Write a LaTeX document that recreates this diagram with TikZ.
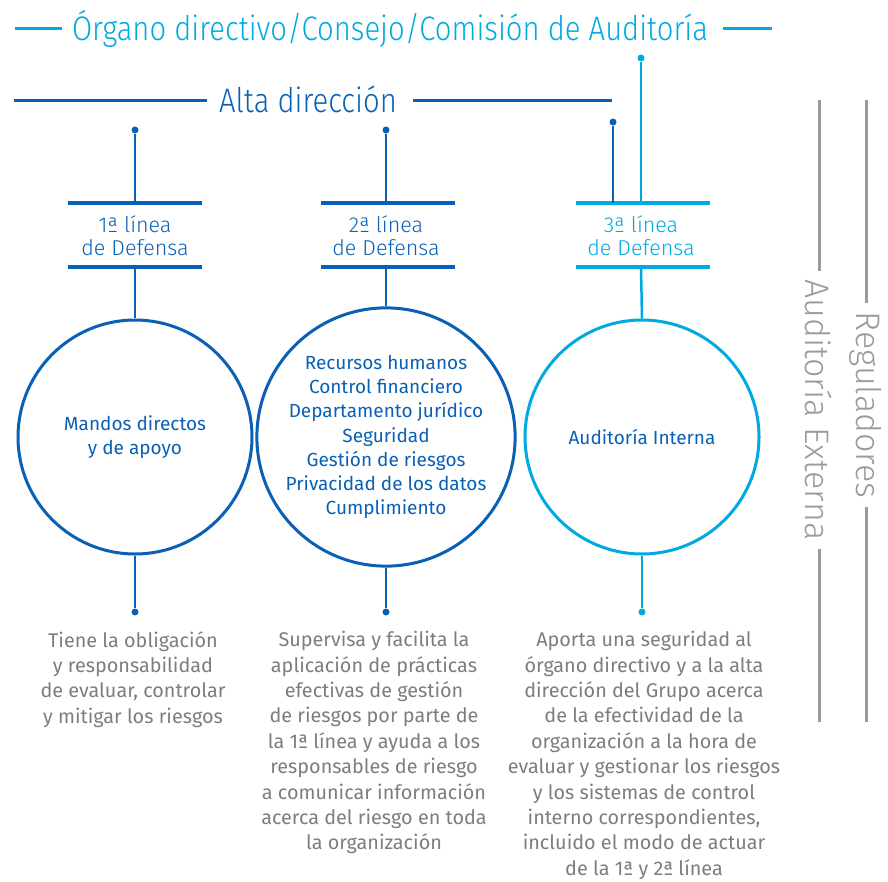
\documentclass[tikz,border=0pt]{standalone}
\usepackage{fontspec}
\usetikzlibrary{calc}
\setmainfont{Fira Sans}
\newfontfamily\hdrfont[UprightFont={* Light},FakeStretch=0.86]{Fira Sans}
\newfontfamily\lightfont[UprightFont={* Light}]{Fira Sans}
\definecolor{sblue}{RGB}{10,96,180}
\definecolor{scyan}{RGB}{0,170,225}
\definecolor{gtext}{RGB}{125,125,125}
\definecolor{gline}{RGB}{155,155,155}
\tikzset{
  hdr/.style={font=\hdrfont\fontsize{34}{40}\selectfont, inner sep=0pt},
  side/.style={font=\lightfont\fontsize{34}{40}\selectfont, inner sep=0pt, text=gline, rotate=-90},
  linelbl/.style={font=\lightfont\fontsize{21.5}{23}\selectfont, align=center, inner sep=0pt},
  circ/.style={circle, draw, line width=3pt, minimum size=234pt, inner sep=0pt, align=center,
     font=\fontsize{19}{24.2}\selectfont, text=sblue},
  desc/.style={font=\fontsize{19.8}{25.4}\selectfont, text=gtext, align=center, inner sep=0pt, anchor=north},
  dot/.style={circle, fill, inner sep=0pt, minimum size=7pt},
  conn/.style={line width=2.5pt},
  bar/.style={line width=4pt},
  hline/.style={line width=3pt},
}
\begin{document}
\begin{tikzpicture}[x=1pt,y=-1pt]
\useasboundingbox (0,0) rectangle (888,882);

% top header
\node[hdr, text=scyan, anchor=center] (org) at (390,29) {Órgano directivo/Consejo/Comisión de Auditoría};
\coordinate (orgL) at (15,29);
\coordinate (orgR) at (772,29);
\draw[hline, scyan] (orgL) -- ([xshift=-10pt]org.west);
\draw[hline, scyan] ([xshift=15pt]org.east) -- (orgR);

% alta direccion
\node[hdr, text=sblue] (alta) at (308,99) {Alta dirección};
\coordinate (altaL) at (14,101);
\coordinate (altaR) at (612,101);
\draw[hline, sblue] (altaL) -- ([xshift=-12pt]alta.west |- altaL);
\draw[hline, sblue] ([xshift=16pt]alta.east |- altaR) -- (altaR);

% dots top
\node[dot, sblue] (t1) at (135,130) {};
\node[dot, sblue] (t2) at (386,130) {};
\node[dot, sblue] (t3) at (613,122) {};
\node[dot, scyan] (t4) at (641,58) {};

% bars
\coordinate (b1a) at (135,203); \coordinate (b1b) at (135,267);
\coordinate (b2a) at (386,203); \coordinate (b2b) at (386,267);
\coordinate (b3a) at (641,203); \coordinate (b3b) at (641,267);
\draw[bar, sblue] (68,203) -- (202,203);
\draw[bar, sblue] (68,267) -- (202,267);
\draw[bar, sblue] (321,203) -- (455,203);
\draw[bar, sblue] (321,267) -- (455,267);
\draw[bar, scyan] (576,203) -- (710,203);
\draw[bar, scyan] (576,267) -- (710,267);

\node[linelbl, text=sblue] (l1) at (135,236) {1ª línea\\de Defensa};
\node[linelbl, text=sblue] (l2) at (386,236) {2ª línea\\de Defensa};
\node[linelbl, text=scyan] (l3) at (641,236) {3ª línea\\de Defensa};

% connectors top
\draw[conn, sblue] (t1) -- (b1a);
\draw[conn, sblue] (t2) -- (b2a);
\draw[conn, sblue] (t3) -- (613,203);
\draw[conn, scyan] (t4) -- (b3a);

% circles
\node[circ, draw=sblue] (c1) at (135,437) {Mandos directos\\y de apoyo};
\node[circ, draw=sblue] (c2) at (386,437) {Recursos humanos\\Control financiero\\Departamento jurídico\\Seguridad\\Gestión de riesgos\\Privacidad de los datos\\Cumplimiento};
\node[circ, draw=scyan] (c3) at (642,437) {Auditoría Interna};

\draw[conn, sblue] (b1b) -- (c1.north);
\draw[conn, sblue] (b2b) -- (c2.north);
\draw[conn, scyan] (b3b) -- (c3.north);

% bottom dots
\node[dot, sblue] (e1) at (135,612) {};
\node[dot, sblue] (e2) at (386,612) {};
\node[dot, scyan] (e3) at (642,612) {};
\draw[conn, sblue] (c1.south) -- (e1);
\draw[conn, sblue] (c2.south) -- (e2);
\draw[conn, scyan] (c3.south) -- (e3);

% descriptions
\node[desc] (d1) at (133,631) {Tiene la obligación\\y responsabilidad\\de evaluar, controlar\\y mitigar los riesgos};
\node[desc] (d2) at (374,631) {Supervisa y facilita la\\aplicación de prácticas\\efectivas de gestión\\de riesgos por parte de\\la 1ª línea y ayuda a los\\responsables de riesgo\\a comunicar información\\acerca del riesgo en toda\\la organización};
\node[desc] (d3) at (644,631) {Aporta una seguridad al\\órgano directivo y a la alta\\dirección del Grupo acerca\\de la efectividad de la\\organización a la hora de\\evaluar y gestionar los riesgos\\y los sistemas de control\\interno correspondientes,\\incluido el modo de actuar\\de la 1ª y 2ª línea};

% side labels
\node[side] (ae) at (819,410) {Auditoría Externa};
\coordinate (aeT) at (819,100); \coordinate (aeB) at (819,722);
\draw[hline, gline] (aeT) -- ($(ae.west)+(0,-8)$);
\draw[hline, gline] ($(ae.east)+(0,8)$) -- (aeB);
\node[side] (reg) at (866,405) {Reguladores};
\coordinate (regT) at (866,100); \coordinate (regB) at (866,722);
\draw[hline, gline] (regT) -- ($(reg.west)+(0,-8)$);
\draw[hline, gline] ($(reg.east)+(0,8)$) -- (regB);
\end{tikzpicture}
\end{document}
